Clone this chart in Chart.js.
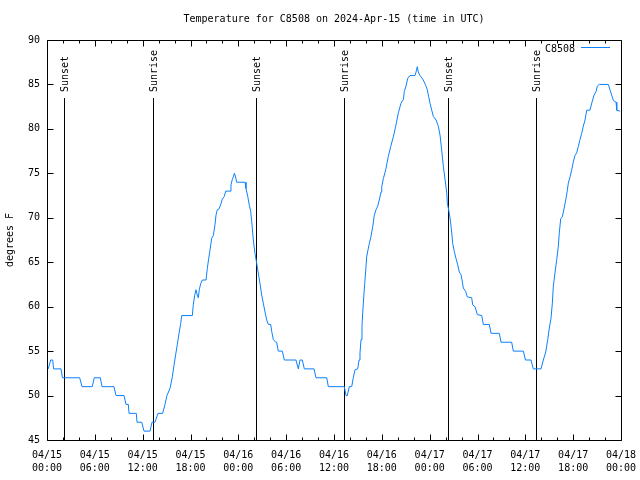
<!DOCTYPE html>
<html><head><meta charset="utf-8">
<script src="https://cdn.jsdelivr.net/npm/chart.js@4/dist/chart.umd.min.js"></script>
<style>html,body{margin:0;padding:0;background:#fff}canvas{display:block}</style>
</head><body>
<canvas id="c" width="640" height="480"></canvas>
<script>
const chartTitle = 'Temperature for C8508 on 2024-Apr-15 (time in UTC)';
const yAxisTitle = 'degrees F';
const seriesName = 'C8508';

// hours since 04/15 00:00 UTC
const sampleHours = [
  0.16,0.46,0.72,0.82,1.76,1.94,4.10,4.39,5.68,5.93,
  6.69,6.90,8.40,8.66,9.66,9.91,10.20,10.29,11.20,11.29,
  11.88,12.17,12.92,13.17,13.55,13.92,14.51,14.80,15.05,15.43,
  15.72,15.93,16.14,16.34,16.56,16.77,16.90,18.23,18.35,18.53,
  18.69,18.85,18.98,19.10,19.28,19.48,19.95,20.11,20.28,20.45,
  20.66,20.86,21.07,21.20,21.36,21.58,21.83,21.99,22.24,22.42,
  22.96,23.08,23.24,23.37,23.50,23.62,23.80,24.84,24.96,25.18,
  25.38,25.55,25.68,25.80,25.88,26.09,26.30,26.50,26.72,26.93,
  27.13,27.35,27.56,27.76,28.06,28.19,28.39,28.69,28.81,29.01,
  29.52,29.77,31.23,31.52,31.74,32.02,32.28,33.49,33.74,35.09,
  35.29,37.29,37.51,37.67,37.92,38.22,38.42,38.64,38.97,39.14,
  39.26,39.39,39.51,39.60,39.73,39.85,39.98,40.10,40.27,40.43,
  40.64,40.86,41.06,41.27,41.48,41.68,41.90,41.99,42.19,42.49,
  42.81,43.11,43.44,43.74,44.07,44.41,44.70,44.82,45.03,45.25,
  45.53,46.16,46.29,46.45,46.57,46.79,47.20,47.50,47.70,47.88,
  48.04,48.26,48.46,48.80,49.09,49.30,49.51,49.71,49.93,50.14,
  50.22,50.47,50.64,50.77,50.89,51.09,51.31,51.52,51.72,51.93,
  52.06,52.22,52.52,52.72,53.27,53.40,53.69,53.98,54.53,54.73,
  55.48,55.70,56.74,56.95,58.29,58.49,59.75,60.02,60.71,61.00,
  61.97,62.26,62.56,62.81,63.01,63.22,63.39,63.51,63.72,63.94,
  64.14,64.26,64.44,64.64,64.85,65.07,65.27,65.39,65.61,65.82,
  66.02,66.23,66.44,66.64,66.86,67.07,67.27,67.49,67.70,68.11,
  68.33,68.62,68.87,69.03,69.28,70.41,70.62,70.83,71.04,71.38,71.47,71.88
];
const sampleTempsF = [
  53,54,54,53,53,52,52,51,51,52,
  52,51,51,50,50,49,49,48,48,47,
  47,46,46,47,47,48,48,49,50,50.8,
  52.1,53.4,54.6,55.7,57,58.1,59,59,60.2,61.3,
  61.9,61.3,61,61.9,62.6,63,63,64.3,65.4,66.4,
  67.7,68,69.2,70.3,70.9,71,71.6,72.1,72.4,73,
  73,73.7,74.3,74.6,75,74.7,74,74,73.3,72.4,
  71.4,70.7,69.6,68.3,67.5,66,64.9,63.8,62.6,61.3,
  60.4,59.4,58.5,58,58,57.2,56.3,56,56,55,
  55,54,54,53,54,54,53,53,52,52,
  51,51,50,50,51,51,52,52.9,53,54,
  54.8,56.3,57.8,59.3,61.1,62.6,64.1,65.6,66.4,67.1,
  67.9,69,70.3,70.9,71.3,72,72.9,73.5,74.4,75.4,
  76.9,78,79.1,80.3,81.8,82.9,83.3,84.2,84.8,85.7,
  86,86,86.4,87,86.4,86,85.5,84.9,84.4,83.6,
  82.9,82.1,81.4,81,80.3,79.3,77.6,75.8,74.3,72.8,
  71.6,70.5,69.4,68.3,67.1,66.2,65.4,64.7,63.9,63.6,
  63,62.1,61.7,61.1,61,60.2,60,59.1,59,58,
  58,57,57,56,56,55,55,54,54,53,
  53,54,54.9,56.3,57.6,58.7,60.4,62.3,63.8,65.3,
  66.8,68.3,69.9,70.1,71,72,73.1,73.9,74.6,75.4,
  76.3,77,77.3,78,78.8,79.5,80.3,81,82.1,82.1,
  82.9,83.8,84.2,84.8,85,85,84.4,83.8,83.2,83,82.1,82
];

const eventHours = [2.17, 13.33, 26.25, 37.29, 50.34, 61.38];
const eventNames = ['Sunset', 'Sunrise', 'Sunset', 'Sunrise', 'Sunset', 'Sunrise'];

const xTickHours = [0, 6, 12, 18, 24, 30, 36, 42, 48, 54, 60, 66, 72];
const xTickDates = ['04/15','04/15','04/15','04/15','04/16','04/16','04/16','04/16','04/17','04/17','04/17','04/17','04/18'];
const xTickTimes = ['00:00','06:00','12:00','18:00','00:00','06:00','12:00','18:00','00:00','06:00','12:00','18:00','00:00'];
const xMinorStep = 2;
const yTicks = [45, 50, 55, 60, 65, 70, 75, 80, 85, 90];

const FONT = '"DejaVu Sans Mono", "Liberation Mono", monospace';
const LINE_COLOR = '#0a80ff';

const overlay = {
  id: 'overlay',
  beforeDatasetsDraw(chart) {
    const ctx = chart.ctx, a = chart.chartArea, xs = chart.scales.x;
    ctx.save();
    ctx.strokeStyle = '#000'; ctx.lineWidth = 1;
    ctx.font = '10px ' + FONT; ctx.fillStyle = '#000';
    eventHours.forEach((h, i) => {
      const px = Math.round(xs.getPixelForValue(h)) + 0.5;
      ctx.beginPath(); ctx.moveTo(px, 98); ctx.lineTo(px, a.bottom); ctx.stroke();
      ctx.save();
      ctx.translate(px + 1, 92); ctx.rotate(-Math.PI / 2);
      ctx.textAlign = 'left'; ctx.textBaseline = 'middle';
      ctx.fillText(eventNames[i], 0, 0);
      ctx.restore();
    });
    ctx.restore();
  },
  afterDraw(chart) {
    const ctx = chart.ctx, a = chart.chartArea, xs = chart.scales.x, ys = chart.scales.y;
    ctx.save();
    ctx.strokeStyle = '#000'; ctx.lineWidth = 1;
    const L = Math.round(a.left) + 0.5, R = Math.round(a.right) + 0.5;
    const T = Math.round(a.top) + 0.5, B = Math.round(a.bottom) + 0.5;
    ctx.beginPath();
    ctx.rect(L, T, R - L, B - T);
    for (let h = xs.min; h <= xs.max; h += xMinorStep) {
      const len = xTickHours.includes(h) ? 6 : 3;
      const px = Math.round(xs.getPixelForValue(h)) + 0.5;
      ctx.moveTo(px, B); ctx.lineTo(px, B - len);
      ctx.moveTo(px, T); ctx.lineTo(px, T + len);
    }
    yTicks.forEach(v => {
      const py = Math.round(ys.getPixelForValue(v)) + 0.5;
      ctx.moveTo(L, py); ctx.lineTo(L + 6, py);
      ctx.moveTo(R, py); ctx.lineTo(R - 6, py);
    });
    ctx.stroke();

    ctx.fillStyle = '#000';
    ctx.font = '10px ' + FONT;
    ctx.textAlign = 'center'; ctx.textBaseline = 'middle';
    ctx.fillText(chartTitle, (a.left + a.right) / 2, 19);

    ctx.save();
    ctx.translate(10, 240); ctx.rotate(-Math.PI / 2);
    ctx.fillText(yAxisTitle, 0, 0);
    ctx.restore();

    ctx.textAlign = 'right';
    ctx.fillText(seriesName, 575, 49);
    ctx.strokeStyle = LINE_COLOR;
    ctx.beginPath(); ctx.moveTo(581, 47.5); ctx.lineTo(610, 47.5); ctx.stroke();
    ctx.restore();
  }
};

new Chart(document.getElementById('c'), {
  type: 'line',
  data: {
    datasets: [{
      label: seriesName,
      data: sampleHours.map((h, i) => ({ x: h, y: sampleTempsF[i] })),
      borderColor: LINE_COLOR,
      borderWidth: 1,
      pointRadius: 0,
      tension: 0,
      fill: false
    }]
  },
  options: {
    responsive: false,
    animation: false,
    devicePixelRatio: 1,
    layout: { padding: { top: 40, right: 19, left: 0, bottom: 0 } },
    plugins: { legend: { display: false }, title: { display: false }, tooltip: { enabled: false } },
    scales: {
      x: {
        type: 'linear', min: 0, max: 72,
        afterBuildTicks: s => { s.ticks = xTickHours.map(v => ({ value: v })); },
        ticks: {
          autoSkip: false, maxRotation: 0, minRotation: 0, padding: 9, color: '#000',
          font: { family: FONT, size: 10, lineHeight: 1.3 },
          callback: (v, i) => [xTickDates[i], xTickTimes[i]]
        },
        grid: { display: false, drawTicks: false },
        border: { display: false },
        afterFit: s => { s.height = 40; s.paddingLeft = 0; s.paddingRight = 0; }
      },
      y: {
        min: 45, max: 90,
        afterBuildTicks: s => { s.ticks = yTicks.map(v => ({ value: v })); },
        ticks: { padding: 7, color: '#000', font: { family: FONT, size: 10 } },
        grid: { display: false, drawTicks: false },
        border: { display: false },
        afterFit: s => { s.width = 47; s.paddingTop = 0; s.paddingBottom = 0; }
      }
    }
  },
  plugins: [overlay]
});
</script>
</body></html>
